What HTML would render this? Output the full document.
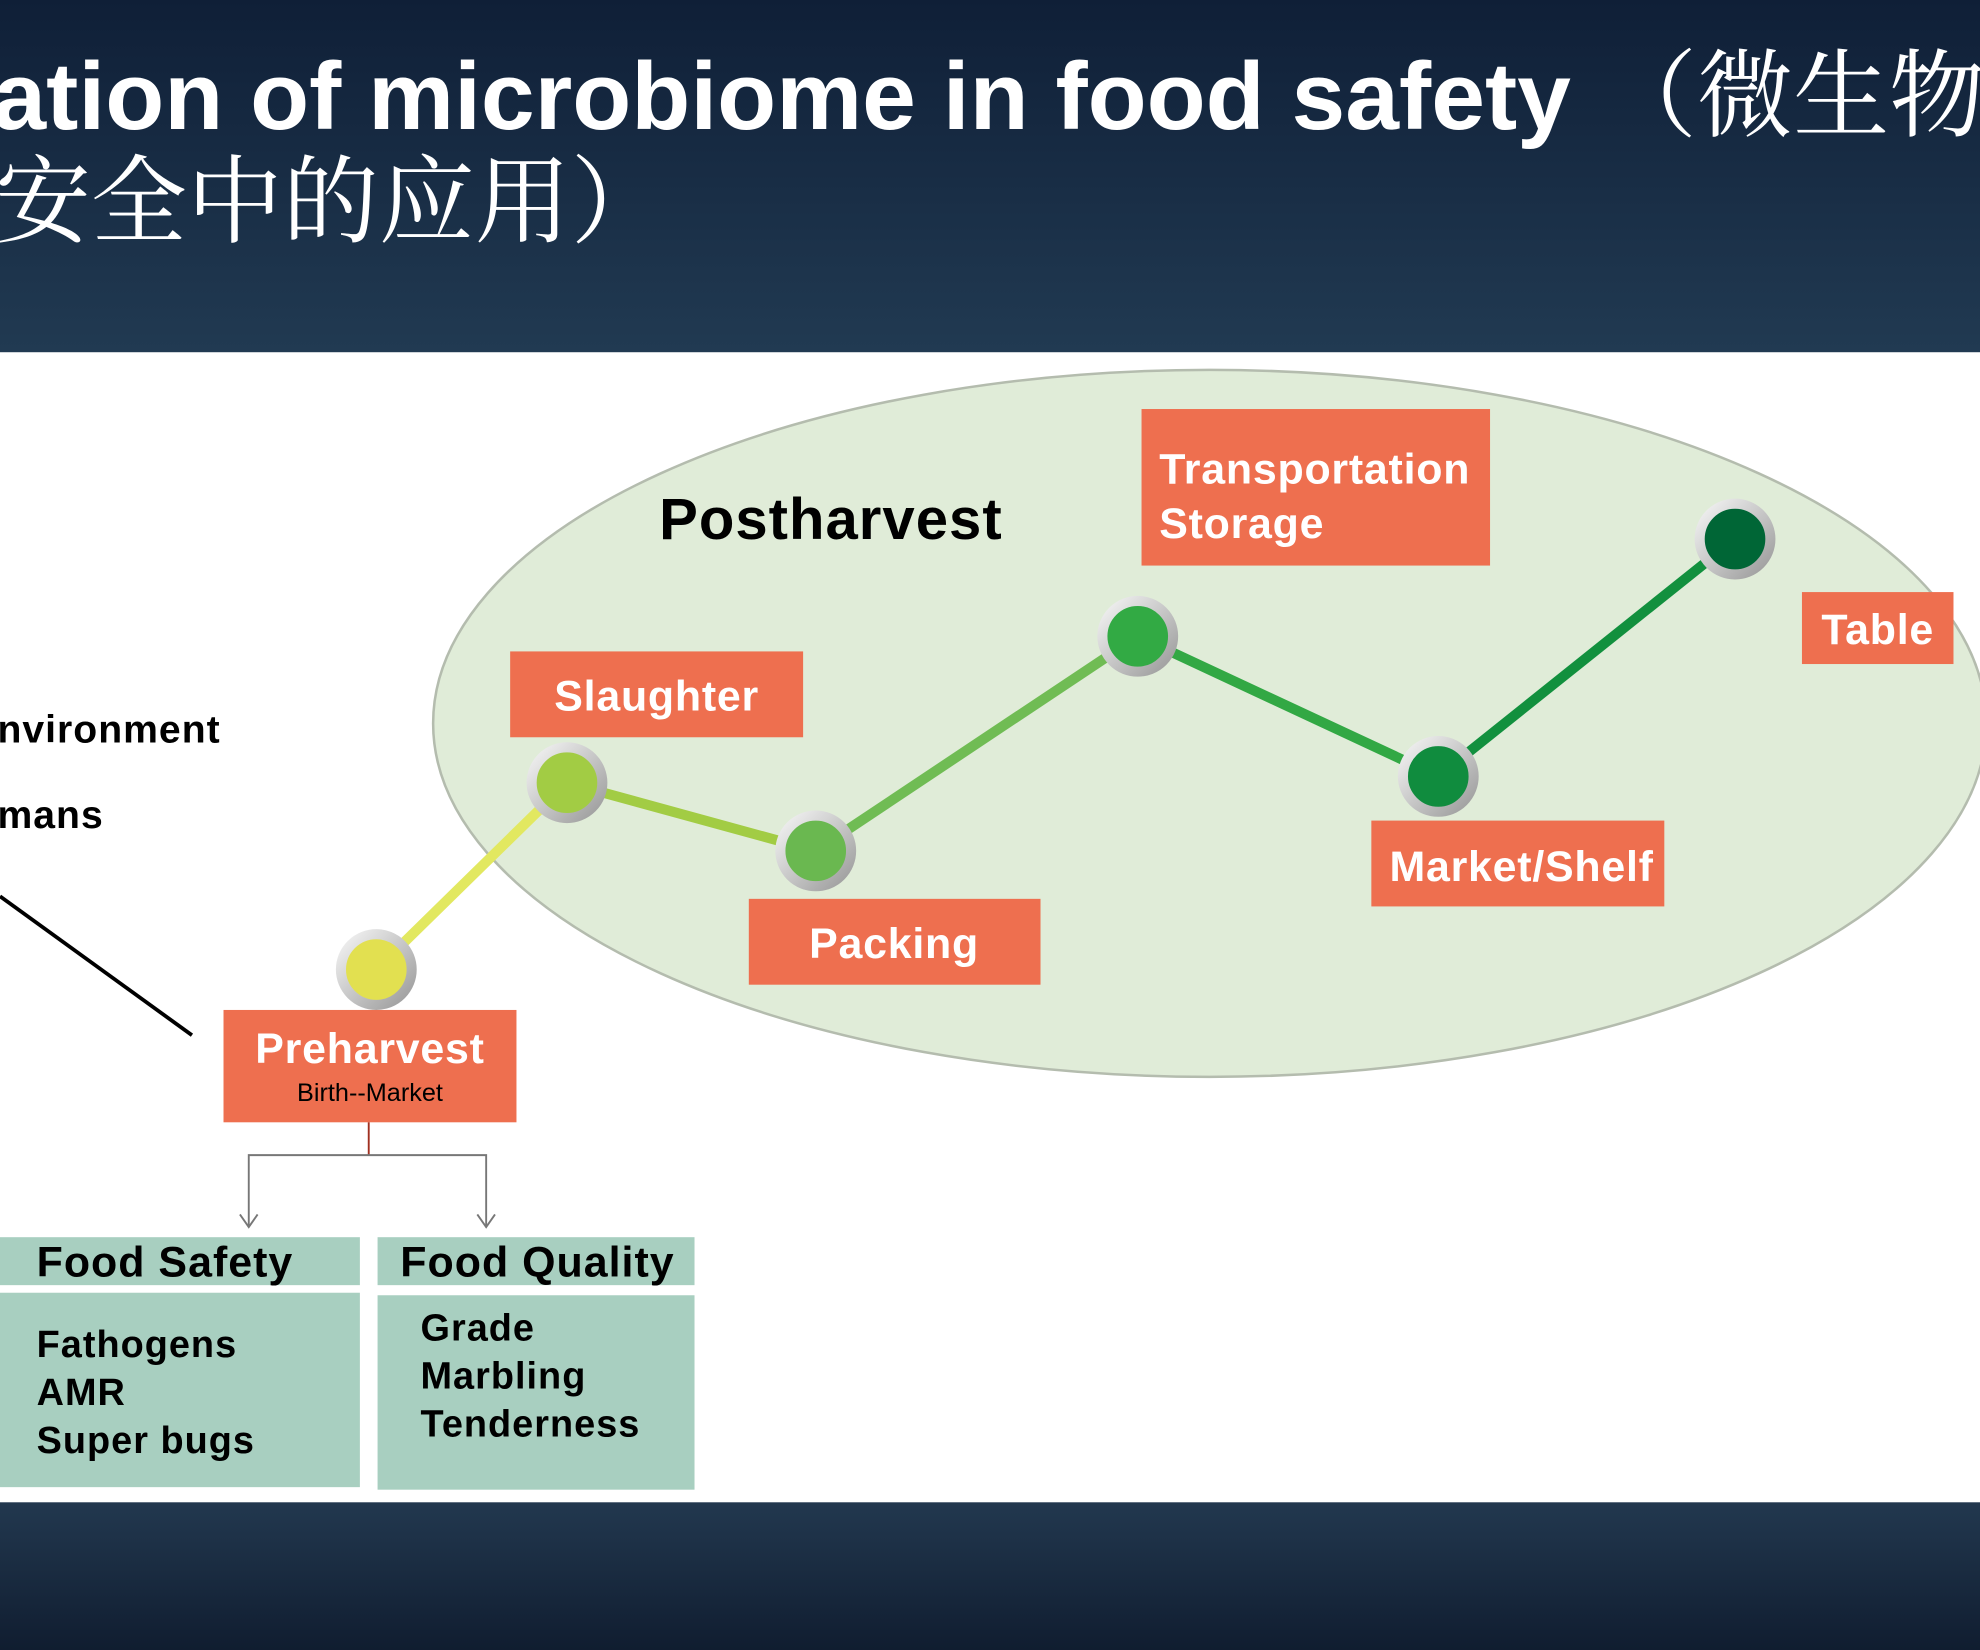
<!DOCTYPE html>
<html><head><meta charset="utf-8"><style>html,body{margin:0;padding:0;width:1980px;height:1650px;overflow:hidden;background:#fff}svg{display:block}</style></head>
<body>
<svg width="1980" height="1650" viewBox="0 0 1568 1307" preserveAspectRatio="none" xmlns="http://www.w3.org/2000/svg">
<defs>
<linearGradient id="hd" x1="0" y1="0" x2="0" y2="1"><stop offset="0" stop-color="#0f1f37"/><stop offset="1" stop-color="#213a52"/></linearGradient>
<linearGradient id="ft" x1="0" y1="0" x2="0" y2="1"><stop offset="0" stop-color="#22384f"/><stop offset="1" stop-color="#101d30"/></linearGradient>
<linearGradient id="ring" x1="0" y1="0" x2="1" y2="1"><stop offset="0" stop-color="#f4f4f4"/><stop offset="1" stop-color="#9a9a9a"/></linearGradient>
</defs>
<rect x="0" y="0" width="1568" height="279" fill="url(#hd)"/>
<rect x="0" y="1190" width="1568" height="117" fill="url(#ft)"/>
<g fill="#fff">
<text x="-6" y="102" font-size="76" font-weight="bold" font-family="Liberation Sans, sans-serif" textLength="1250" lengthAdjust="spacingAndGlyphs">ation of microbiome in food safety</text>
<text x="1268" y="102" font-size="76" font-family="Noto Serif CJK SC, serif">（微生物</text>
<text x="-4" y="186" font-size="76" font-family="Noto Serif CJK SC, serif">安全中的应用）</text>
</g>
<ellipse cx="958" cy="573" rx="615" ry="280" fill="#e0ecd8" stroke="#b4bcae" stroke-width="2"/>
<g font-family="Liberation Sans, sans-serif" font-weight="bold">
<text x="522" y="427" font-size="46" fill="#000" letter-spacing="0.8">Postharvest</text>
<text x="-2" y="588" font-size="31" fill="#000" letter-spacing="0.8">nvironment</text>
<text x="-2" y="656" font-size="31" fill="#000" letter-spacing="0.8">mans</text>
</g>
<line x1="0" y1="710" x2="152" y2="820" stroke="#000" stroke-width="3"/>
<g stroke-linecap="round" stroke-width="8">
<line x1="298" y1="768" x2="449" y2="620" stroke="#e2e860"/>
<line x1="449" y1="620" x2="646" y2="674" stroke="#a2cc44"/>
<line x1="646" y1="674" x2="901" y2="504" stroke="#70bc54"/>
<line x1="901" y1="504" x2="1139" y2="615" stroke="#32a844"/>
<line x1="1139" y1="615" x2="1374" y2="427" stroke="#12903e"/>
</g>
<g stroke="url(#ring)" stroke-width="8">
<circle cx="298" cy="768" r="28" fill="#e2e050"/>
<circle cx="449" cy="620" r="28" fill="#a2cc44"/>
<circle cx="646" cy="674" r="28" fill="#6ab850"/>
<circle cx="901" cy="504" r="28" fill="#32aa44"/>
<circle cx="1139" cy="615" r="28" fill="#108c3e"/>
<circle cx="1374" cy="427" r="28" fill="#006636"/>
</g>
<g fill="#ee6f4f">
<rect x="904" y="324" width="276" height="124"/>
<rect x="1427" y="469" width="120" height="57"/>
<rect x="404" y="516" width="232" height="68"/>
<rect x="593" y="712" width="231" height="68"/>
<rect x="1086" y="650" width="232" height="68"/>
<rect x="177" y="800" width="232" height="89"/>
</g>
<g font-family="Liberation Sans, sans-serif" font-weight="bold" fill="#fff" font-size="34" letter-spacing="0.6">
<text x="918" y="383">Transportation</text>
<text x="918" y="426">Storage</text>
<text x="1487" y="510" text-anchor="middle">Table</text>
<text x="520" y="563" text-anchor="middle">Slaughter</text>
<text x="708" y="759" text-anchor="middle">Packing</text>
<text x="1205" y="698" text-anchor="middle">Market/Shelf</text>
<text x="293" y="842" text-anchor="middle">Preharvest</text>
</g>
<text x="293" y="872" font-family="Liberation Sans, sans-serif" font-size="20" fill="#000" text-anchor="middle">Birth--Market</text>
<line x1="292" y1="889" x2="292" y2="915" stroke="#a03020" stroke-width="1.5"/>
<g stroke="#777" stroke-width="1.5" fill="none">
<polyline points="197,972 197,915 385,915 385,972"/>
<polyline points="190,962 197,972 204,962"/>
<polyline points="378,962 385,972 392,962"/>
</g>
<g fill="#a8cfc0">
<rect x="0" y="980" width="285" height="38"/>
<rect x="0" y="1024" width="285" height="154"/>
<rect x="299" y="980" width="251" height="38"/>
<rect x="299" y="1026" width="251" height="154"/>
</g>
<g font-family="Liberation Sans, sans-serif" font-weight="bold" fill="#000" letter-spacing="0.8">
<text x="29" y="1011" font-size="34">Food Safety</text>
<text x="317" y="1011" font-size="34">Food Quality</text>
<g font-size="30">
<text x="29" y="1075">Fathogens</text>
<text x="29" y="1113">AMR</text>
<text x="29" y="1151">Super bugs</text>
<text x="333" y="1062">Grade</text>
<text x="333" y="1100">Marbling</text>
<text x="333" y="1138">Tenderness</text>
</g>
</g>
</svg>
</body></html>
